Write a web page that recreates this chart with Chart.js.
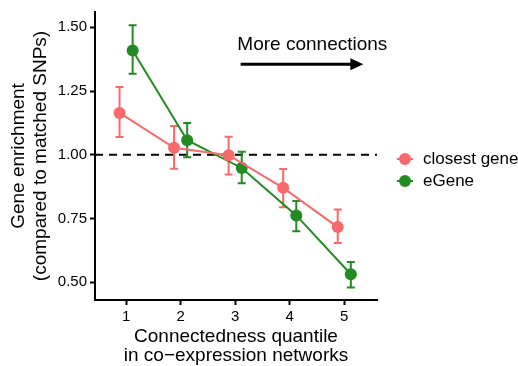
<!DOCTYPE html>
<html>
<head>
<meta charset="utf-8">
<script src="https://cdn.jsdelivr.net/npm/chart.js@4"></script>
<style>
  html, body { margin: 0; padding: 0; background: #fff; }
  #wrap { width: 518px; height: 366px; }
</style>
</head>
<body>
<div id="wrap"><canvas id="chart" width="518" height="366"></canvas></div>
<script>
const quantiles = [1, 2, 3, 4, 5];
const seriesNames = ['closest gene', 'eGene'];
const closestMean = [1.164, 1.027, 0.998, 0.870, 0.716];
const closestLow = [1.070, 0.945, 0.922, 0.794, 0.654];
const closestHigh = [1.266, 1.113, 1.071, 0.944, 0.785];
const eGeneMean = [1.409, 1.057, 0.948, 0.762, 0.531];
const eGeneLow = [1.318, 0.990, 0.888, 0.700, 0.479];
const eGeneHigh = [1.508, 1.124, 1.012, 0.818, 0.579];
const yTicks = [0.5, 0.75, 1.0, 1.25, 1.5];
const refLine = 1.0;
const arrowLabel = 'More connections';

const FONT = '"Liberation Sans", Arial, Helvetica, sans-serif';
const RED = '#F8696B';
const GREEN = '#228B22';
const dodge = 0.12;

function points(means, shift) {
  return quantiles.map((q, i) => ({ x: q + shift, y: means[i] }));
}

const datasets = [
  { label: seriesNames[0], data: points(closestMean, -dodge), low: closestLow, high: closestHigh,
    borderColor: RED, backgroundColor: RED },
  { label: seriesNames[1], data: points(eGeneMean, dodge), low: eGeneLow, high: eGeneHigh,
    borderColor: GREEN, backgroundColor: GREEN }
].map(d => Object.assign(d, {
  borderWidth: 2, pointRadius: 6, pointHoverRadius: 6, pointBorderWidth: 0, tension: 0
}));

// dashed reference line, error bars, arrow note and legend
const extras = {
  id: 'extras',
  beforeDatasetsDraw(chart) {
    const { ctx, chartArea, scales: { x, y } } = chart;
    ctx.save();
    ctx.strokeStyle = '#000';
    ctx.lineWidth = 2;
    ctx.setLineDash([8, 6]);
    const yy = y.getPixelForValue(refLine);
    ctx.beginPath();
    ctx.moveTo(chartArea.left, yy);
    ctx.lineTo(chartArea.right, yy);
    ctx.stroke();
    ctx.setLineDash([]);

    chart.data.datasets.forEach(ds => {
      ctx.strokeStyle = ds.borderColor;
      ctx.lineWidth = 2;
      ds.data.forEach((p, i) => {
        const px = x.getPixelForValue(p.x);
        const y1 = y.getPixelForValue(ds.low[i]);
        const y2 = y.getPixelForValue(ds.high[i]);
        ctx.beginPath();
        ctx.moveTo(px, y1); ctx.lineTo(px, y2);
        ctx.moveTo(px - 4, y1); ctx.lineTo(px + 4, y1);
        ctx.moveTo(px - 4, y2); ctx.lineTo(px + 4, y2);
        ctx.stroke();
      });
    });
    ctx.restore();
  },
  afterDraw(chart) {
    const { ctx, scales: { x, y } } = chart;
    ctx.save();
    ctx.fillStyle = '#000';
    ctx.font = '19px ' + FONT;
    ctx.textBaseline = 'middle';
    ctx.textAlign = 'left';
    ctx.fillText(arrowLabel, x.getPixelForValue(3.04), y.getPixelForValue(1.43));
    const ax1 = x.getPixelForValue(3.1), ax2 = x.getPixelForValue(5.35);
    const ay = y.getPixelForValue(1.355);
    ctx.strokeStyle = '#000';
    ctx.lineWidth = 3;
    ctx.beginPath();
    ctx.moveTo(ax1, ay); ctx.lineTo(ax2 - 10, ay);
    ctx.stroke();
    ctx.beginPath();
    ctx.moveTo(ax2, ay);
    ctx.lineTo(ax2 - 13, ay - 6);
    ctx.lineTo(ax2 - 13, ay + 6);
    ctx.closePath();
    ctx.fill();

    ctx.font = '17px ' + FONT;
    chart.data.datasets.forEach((ds, i) => {
      const ly = 159 + i * 22;
      ctx.strokeStyle = ds.borderColor;
      ctx.fillStyle = ds.borderColor;
      ctx.lineWidth = 2;
      ctx.beginPath();
      ctx.moveTo(397, ly); ctx.lineTo(413, ly);
      ctx.stroke();
      ctx.beginPath();
      ctx.arc(405, ly, 6, 0, Math.PI * 2);
      ctx.fill();
      ctx.fillStyle = '#000';
      ctx.fillText(ds.label, 423, ly);
    });
    ctx.restore();
  }
};

new Chart(document.getElementById('chart'), {
  type: 'line',
  data: { datasets },
  options: {
    responsive: false,
    animation: false,
    events: [],
    layout: { padding: { left: 8, right: 141, top: 10, bottom: 0 } },
    plugins: { legend: { display: false }, tooltip: { enabled: false } },
    scales: {
      x: {
        type: 'linear', min: 0.43, max: 5.6,
        afterBuildTicks: s => { s.ticks = quantiles.map(v => ({ value: v })); },
        afterFit: s => { s.height = 66; },
        border: { color: '#000', width: 2 },
        grid: { drawOnChartArea: false, tickLength: 5, tickColor: '#000', tickWidth: 2 },
        ticks: { color: '#000', font: { family: FONT, size: 15 }, padding: 3 },
        title: { display: true, text: ['Connectedness quantile', 'in co\u2212expression networks'],
          color: '#000', font: { family: FONT, size: 19, lineHeight: 1.0 }, padding: { top: 0, bottom: 1 } }
      },
      y: {
        type: 'linear', min: 0.43, max: 1.56,
        afterBuildTicks: s => { s.ticks = yTicks.map(v => ({ value: v })); },
        afterFit: s => { s.width = 87; },
        border: { color: '#000', width: 2 },
        grid: { drawOnChartArea: false, tickLength: 5, tickColor: '#000', tickWidth: 2 },
        ticks: { color: '#000', font: { family: FONT, size: 15 }, padding: 3,
          callback: v => v.toFixed(2) },
        title: { display: true, text: ['Gene enrichment', '(compared to matched SNPs)'],
          color: '#000', font: { family: FONT, size: 19, lineHeight: 1.15 }, padding: { top: 0, bottom: 0 } }
      }
    }
  },
  plugins: [extras]
});
</script>
</body>
</html>
